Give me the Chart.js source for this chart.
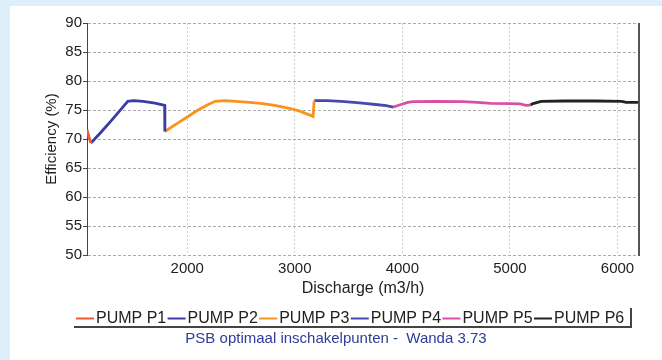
<!DOCTYPE html>
<html><head><meta charset="utf-8">
<script src="https://cdn.jsdelivr.net/npm/chart.js@4/dist/chart.umd.min.js"></script>
<style>
html,body{margin:0;padding:0;background:#ddeff8;overflow:hidden;}
#c{display:block;}
</style></head><body>
<canvas id="c" width="662" height="360"></canvas>
<script>
// ---- data ----
const xTickValues = [2000, 3000, 4000, 5000, 6000];
const yTickValues = [50, 55, 60, 65, 70, 75, 80, 85, 90];
const seriesNames = ['PUMP P1', 'PUMP P2', 'PUMP P3', 'PUMP P4', 'PUMP P5', 'PUMP P6'];
const seriesColors = ['#ea5a33', '#3b3ba6', '#f7941d', '#4a47ad', '#d94fa8', '#222222'];

const p1Discharge = [1068, 1085, 1105];
const p1Efficiency = [71.6, 70.4, 69.3];

const p2Discharge = [1105, 1200, 1300, 1447, 1500, 1590, 1700, 1790, 1792];
const p2Efficiency = [69.3, 71.2, 73.3, 76.5, 76.6, 76.5, 76.2, 75.8, 71.3];

const p3Discharge = [1792, 1900, 2000, 2100, 2200, 2260, 2350, 2450, 2580, 2700, 2813, 2950, 3046, 3170, 3180];
const p3Efficiency = [71.3, 72.6, 73.8, 75.0, 76.0, 76.5, 76.6, 76.5, 76.3, 76.1, 75.8, 75.3, 74.8, 73.9, 76.6];

const p4Discharge = [3180, 3300, 3430, 3550, 3650, 3750, 3850, 3914];
const p4Efficiency = [76.6, 76.6, 76.5, 76.3, 76.15, 75.95, 75.75, 75.5];

const p5Discharge = [3914, 3980, 4050, 4100, 4300, 4560, 4700, 4820, 5000, 5094, 5150, 5190];
const p5Efficiency = [75.5, 75.9, 76.3, 76.45, 76.5, 76.45, 76.3, 76.15, 76.1, 76.05, 75.8, 75.85];

const p6Discharge = [5190, 5215, 5290, 5500, 5800, 6040, 6080, 6200];
const p6Efficiency = [75.85, 76.1, 76.5, 76.55, 76.55, 76.5, 76.3, 76.3];

const xMin = 1068, xMax = 6200, yMin = 50, yMax = 90;
const xTitle = 'Discharge (m3/h)';
const yTitle = 'Efficiency (%)';
const footerText = 'PSB optimaal inschakelpunten -  Wanda 3.73';

// ---- build ----
const allQ = [p1Discharge, p2Discharge, p3Discharge, p4Discharge, p5Discharge, p6Discharge];
const allE = [p1Efficiency, p2Efficiency, p3Efficiency, p4Efficiency, p5Efficiency, p6Efficiency];
const datasets = seriesNames.map((name, i) => ({
  label: name,
  data: allQ[i].map((q, j) => ({x: q, y: allE[i][j]})),
  borderColor: seriesColors[i],
  backgroundColor: seriesColors[i],
  borderWidth: 2.8,
  pointRadius: 0,
  tension: 0,
  fill: false
}));

const FONT = '"Liberation Sans", Arial, sans-serif';

const bgPlugin = {
  id: 'bg',
  beforeDraw(chart) {
    const ctx = chart.ctx;
    ctx.save();
    ctx.fillStyle = '#ddeff8';
    ctx.fillRect(0, 0, chart.width, chart.height);
    ctx.fillStyle = '#ffffff';
    ctx.fillRect(10, 6, chart.width - 10, chart.height - 6);
    ctx.restore();
  }
};

const framePlugin = {
  id: 'frame',
  afterDraw(chart) {
    const ctx = chart.ctx;
    const a = chart.chartArea;
    ctx.save();
    // right border of the plot
    ctx.strokeStyle = '#555';
    ctx.lineWidth = 2;
    ctx.beginPath();
    ctx.moveTo(a.right, a.top);
    ctx.lineTo(a.right, a.bottom + 1);
    ctx.stroke();

    // legend
    const x0 = 76, stride = 91.6, ly = 318.5;
    ctx.font = '16px ' + FONT;
    ctx.textBaseline = 'middle';
    ctx.textAlign = 'left';
    seriesNames.forEach((name, i) => {
      const x = x0 + i * stride;
      ctx.strokeStyle = seriesColors[i];
      ctx.lineWidth = 2;
      ctx.beginPath();
      ctx.moveTo(x, ly);
      ctx.lineTo(x + 18, ly);
      ctx.stroke();
      ctx.fillStyle = '#222';
      ctx.fillText(name, x + 20, ly + 0.5);
    });
    ctx.strokeStyle = '#444';
    ctx.lineWidth = 2;
    ctx.beginPath();
    ctx.moveTo(74, 327);
    ctx.lineTo(631, 327);
    ctx.moveTo(631, 308);
    ctx.lineTo(631, 328);
    ctx.stroke();

    // footer
    ctx.fillStyle = '#2f3c98';
    ctx.font = '15px ' + FONT;
    ctx.textAlign = 'center';
    ctx.fillText(footerText, 336, 339);
    ctx.restore();
  }
};

new Chart(document.getElementById('c'), {
  type: 'line',
  data: {datasets},
  plugins: [bgPlugin, framePlugin],
  options: {
    responsive: false,
    animation: false,
    devicePixelRatio: 1,
    layout: {padding: {left: 38, right: 23, top: 23, bottom: 60}},
    plugins: {legend: {display: false}, tooltip: {enabled: false}},
    scales: {
      x: {
        type: 'linear',
        min: xMin, max: xMax,
        afterBuildTicks(scale) { scale.ticks = xTickValues.map(v => ({value: v})); },
        afterFit(scale) { scale.height = 45; },
        grid: {color: '#cfcfcf', lineWidth: 1, drawTicks: false},
        border: {display: false, dash: [2, 2]},
        ticks: {padding: 5, color: '#222', font: {size: 15, family: FONT}, callback: v => String(v)},
        title: {display: true, text: xTitle, color: '#222', font: {size: 16, family: FONT}, padding: {top: 0, bottom: 2}}
      },
      y: {
        min: yMin, max: yMax,
        afterBuildTicks(scale) { scale.ticks = yTickValues.map(v => ({value: v})); },
        afterFit(scale) { scale.width = 49; },
        grid: {color: '#ababab', lineWidth: 1, tickLength: 4, tickColor: '#444', tickBorderDash: []},
        border: {display: true, color: '#444', width: 1, dash: [3, 2]},
        ticks: {padding: 1, color: '#222', font: {size: 15, family: FONT}, callback: v => String(v)},
        title: {display: true, text: yTitle, color: '#222', font: {size: 15, family: FONT}, padding: {top: 5, bottom: 0}}
      }
    }
  }
});
</script>
</body></html>
